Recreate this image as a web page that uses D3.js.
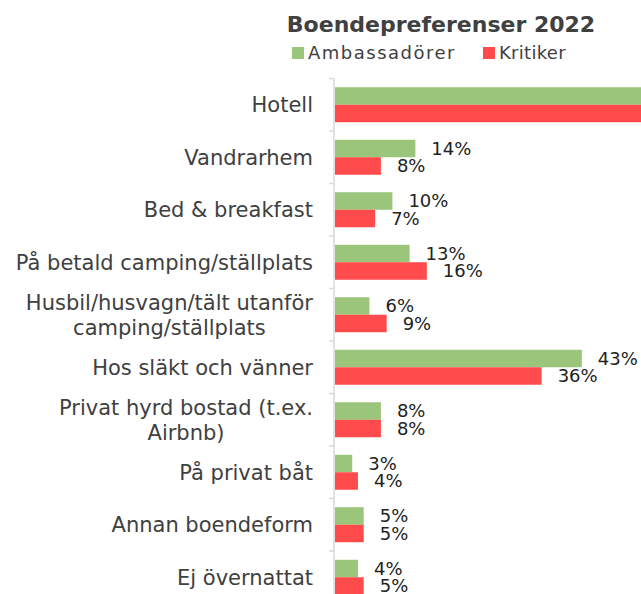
<!DOCTYPE html>
<html>
<head>
<meta charset="utf-8">
<script src="https://cdn.jsdelivr.net/npm/d3@7"></script>
<style>
  body { margin: 0; background: #fff; }
  svg { display: block; font-family: "DejaVu Sans", sans-serif; }
</style>
</head>
<body>
<svg id="chart" width="641" height="594"></svg>
<script>
const categories = [
  ["Hotell"],
  ["Vandrarhem"],
  ["Bed & breakfast"],
  ["På betald camping/ställplats"],
  ["Husbil/husvagn/tält utanför", "camping/ställplats"],
  ["Hos släkt och vänner"],
  ["Privat hyrd bostad (t.ex.", "Airbnb)"],
  ["På privat båt"],
  ["Annan boendeform"],
  ["Ej övernattat"],
];
const ambassadorer = [62, 14, 10, 13, 6, 43, 8, 3, 5, 4];
const kritiker = [66, 8, 7, 16, 9, 36, 8, 4, 5, 5];
const seriesNames = ["Ambassadörer", "Kritiker"];

const width = 641;
const color = d3.scaleOrdinal()
  .domain(seriesNames)
  .range(["#9bc57b", "#ff4b4b"]);

const svg = d3.select("#chart");
const axisX = 334;

const keys = categories.map(c => c.join(" "));
const data = keys.map((k, i) => ({
  key: k,
  lines: categories[i],
  values: [
    { name: seriesNames[0], value: ambassadorer[i] },
    { name: seriesNames[1], value: kritiker[i] },
  ],
}));

const x = d3.scaleLinear().domain([0, 50]).range([axisX + 1, axisX + 1 + 287]);
const y = d3.scaleBand().domain(keys).range([78.5, 603.5]);
const ySub = d3.scaleBand().domain(seriesNames).range([0, y.bandwidth()]).paddingOuter(0.5);

// title
svg.append("text")
  .attr("x", 441).attr("y", 32)
  .attr("text-anchor", "middle")
  .attr("font-size", 22).attr("font-weight", "bold")
  .attr("fill", "#404040")
  .text("Boendepreferenser 2022");

// legend
const legend = svg.append("g").attr("font-size", 18).attr("fill", "#404040");
const legendX = [292, 483];
seriesNames.forEach((name, i) => {
  legend.append("rect")
    .attr("x", legendX[i]).attr("y", 47).attr("width", 12).attr("height", 12)
    .attr("fill", color(name));
  legend.append("text")
    .attr("x", legendX[i] + 16).attr("y", 59)
    .attr("letter-spacing", i === 0 ? 1.5 : 0.3)
    .text(name);
});

// bars
const groups = svg.append("g").selectAll()
  .data(data)
  .join("g")
  .attr("transform", d => `translate(0,${y(d.key)})`);

groups.selectAll("rect")
  .data(d => d.values)
  .join("rect")
  .attr("x", x(0))
  .attr("y", d => ySub(d.name))
  .attr("width", d => x(d.value) - x(0))
  .attr("height", ySub.bandwidth())
  .attr("fill", d => color(d.name));

// value labels (those beyond the right edge are not visible in the chart)
groups.selectAll("text")
  .data(d => d.values.filter(v => x(v.value) + 16 < width))
  .join("text")
  .attr("x", d => x(d.value) + 16)
  .attr("y", d => ySub(d.name) + ySub.bandwidth() / 2)
  .attr("dy", "0.35em")
  .attr("font-size", 18)
  .attr("fill", "#222")
  .text(d => d.value + "%");

// axis line with ticks at band edges
const axis = svg.append("g").attr("stroke", "#d9d9d9").attr("stroke-width", 1.5);
axis.append("line")
  .attr("x1", axisX).attr("x2", axisX)
  .attr("y1", y.range()[0]).attr("y2", y.range()[1]);
axis.selectAll("line.tick")
  .data(keys.map(k => y(k)))
  .join("line")
  .attr("class", "tick")
  .attr("x1", axisX - 5).attr("x2", axisX)
  .attr("y1", d => d).attr("y2", d => d);

// category labels: block right-aligned, lines centred within block
const labelRight = 313;
const lineHeight = 25;
const labels = svg.append("g").attr("font-size", 21).attr("fill", "#404040");
data.forEach(d => {
  const cy = y(d.key) + y.bandwidth() / 2;
  const t = labels.append("text").attr("text-anchor", "middle");
  const n = d.lines.length;
  const tspans = d.lines.map((line, j) => t.append("tspan")
    .attr("y", cy + (j - (n - 1) / 2) * lineHeight)
    .attr("dy", "0.35em")
    .text(line));
  const w = d3.max(tspans, s => s.node().getComputedTextLength());
  tspans.forEach(s => s.attr("x", labelRight - w / 2));
});
</script>
</body>
</html>
